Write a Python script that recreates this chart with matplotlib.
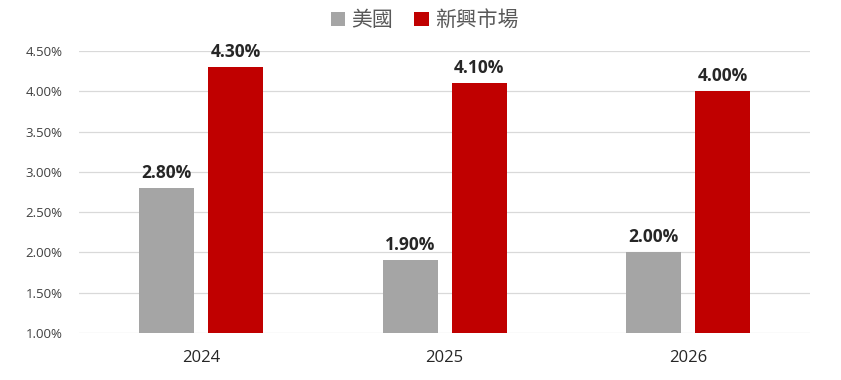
import matplotlib
matplotlib.use('Agg')
import matplotlib.pyplot as plt
import numpy as np

plt.rcParams['font.family'] = ['Open Sans', 'Noto Sans CJK TC', 'DejaVu Sans']

years = ['2024', '2025', '2026']
us = [2.80, 1.90, 2.00]
em = [4.30, 4.10, 4.00]
series_names = ['美國', '新興市場']
colors = ['#A5A5A5', '#C00000']
yticks = [1.0, 1.5, 2.0, 2.5, 3.0, 3.5, 4.0, 4.5]

fig = plt.figure(figsize=(8.41, 3.80), dpi=100)
ax = fig.add_axes([0.0945, 0.1237, 0.8685, 0.7421])

x = np.arange(len(years))
w = 0.226
off = 0.1417
for vals, name, col, d in zip([us, em], series_names, colors, [-off, off]):
    ax.bar(x + d, np.array(vals) - 1.0, w, bottom=1.0, color=col, label=name, zorder=2)
    for xi, v in zip(x + d, vals):
        ax.text(xi, v + 0.08, f'{v:.2f}%', ha='center', va='bottom',
                fontsize=12.5, fontweight='bold', color='#262626')

ax.set_xlim(-0.5, 2.5)
ax.set_ylim(1.0, 4.5)
ax.set_yticks(yticks)
ax.set_yticklabels([f'{t:.2f}%' for t in yticks], fontsize=9.5, color='#404040')
ax.set_xticks(x)
ax.set_xticklabels(years, fontsize=12, color='#262626')
ax.tick_params(axis='both', length=0)
ax.tick_params(axis='x', pad=12)
ax.tick_params(axis='y', pad=12)
ax.grid(axis='y', color='#D9D9D9', linewidth=0.9, zorder=0)
for s in ax.spines.values():
    s.set_visible(False)

leg = fig.legend(loc='upper center', bbox_to_anchor=(0.505, 1.025), ncol=2, frameon=False,
                 prop={'family': ['Noto Sans CJK TC', 'DejaVu Sans'], 'size': 15, 'weight': 'medium'},
                 handlelength=0.7, handleheight=0.7, handletextpad=0.3, columnspacing=1.0)
for t in leg.get_texts():
    t.set_color('#595959')

fig.savefig('out.png', dpi=100)
